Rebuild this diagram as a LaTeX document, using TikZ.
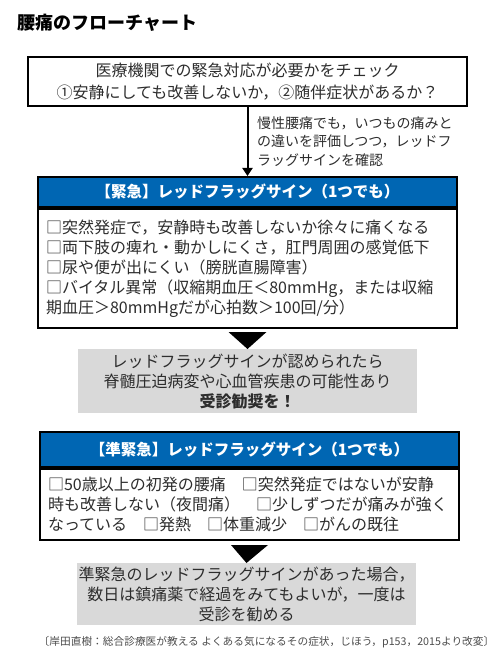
\documentclass[tikz,border=0pt]{standalone}
\usepackage{fontspec}
\setmainfont{Noto Sans CJK JP}
\usetikzlibrary{arrows.meta,calc}
\definecolor{hblue}{RGB}{0,102,179}
\definecolor{gbox}{RGB}{217,217,217}
\definecolor{tx}{RGB}{45,45,45}
\begin{document}
\begin{tikzpicture}[x=1pt,y=-1pt,
  every node/.style={text=tx, inner sep=0pt},
  qbox/.style={draw=black, line width=1.5pt, fill=white, minimum width=439pt, minimum height=49pt, align=center, font=\fontsize{16}{22}\selectfont},
  hdr/.style={draw=black, line width=2pt, fill=hblue, text=white, minimum width=419pt, font=\bfseries\fontsize{15.5}{18}\selectfont},
  body/.style={draw=black, line width=2pt, fill=white, text width=403pt, inner xsep=8pt, align=left, font=\fontsize{16}{20}\selectfont},
  gbx/.style={fill=gbox, minimum width=339pt, align=center, font=\fontsize{16}{20}\selectfont},
  tri/.style={fill=black}
]
\useasboundingbox (0,0) rectangle (500,655);
\node[anchor=west, text=black, font=\bfseries\fontsize{18}{20}\selectfont] (title) at (17,23) {腰痛のフローチャート};
\node[qbox] (q) at (247.5,81.5) {医療機関での緊急対応が必要かをチェック\\①安静にしても改善しないか，②随伴症状があるか？};
\node[hdr, minimum height=30pt] (h1) at (247.5,192) {【緊急】レッドフラッグサイン（1つでも）};
\node[body, minimum height=119pt, anchor=north] (b1) at (h1.south) {□突然発症で，安静時も改善しないか徐々に痛くなる\\□両下肢の痺れ・動かしにくさ，肛門周囲の感覚低下\\□尿や便が出にくい（膀胱直腸障害）\\□バイタル異常（収縮期血圧＜80mmHg，または収縮\\期血圧＞80mmHgだが心拍数＞100回/分）};
\draw[line width=2pt, -{Triangle[length=8pt,width=10pt]}] (q.south) -- (h1.north);
\node[anchor=west, align=left, font=\fontsize{14}{18.5}\selectfont] (note) at (257,141.5) {慢性腰痛でも，いつもの痛みと\\の違いを評価しつつ，レッドフ\\ラッグサインを確認};
\node[gbx, minimum height=64pt, anchor=north] (g1) at (247.5,349) {レッドフラッグサインが認められたら\\脊髄圧迫病変や心血管疾患の可能性あり\\\textbf{受診勧奨を！}};
\fill[tri] ($(b1.south)+(-19,3)$) -- ($(b1.south)+(19,3)$) -- (g1.north) -- cycle;
\node[hdr, minimum height=35pt] (h2) at (249.5,449.5) {【準緊急】レッドフラッグサイン（1つでも）};
\node[body, minimum height=71pt, anchor=north] (b2) at (h2.south) {□50歳以上の初発の腰痛　□突然発症ではないが安静\\時も改善しない（夜間痛）　□少しずつだが痛みが強く\\なっている　□発熱　□体重減少　□がんの既往};
\node[gbx, minimum height=62pt, anchor=north] (g2) at (246.5,563) {準緊急のレッドフラッグサインがあった場合，\\数日は鎮痛薬で経過をみてもよいが，一度は\\受診を勧める};
\fill[tri] ($(b2.south)+(-18.5,4)$) -- ($(b2.south)+(18.5,4)$) -- (g2.north) -- cycle;
\node[text=black!70, font=\fontsize{10.7}{12}\selectfont] (src) at (266.5,642) {〔岸田直樹：総合診療医が教える よくある気になるその症状，じほう，p153，2015より改変〕};
\end{tikzpicture}
\end{document}
